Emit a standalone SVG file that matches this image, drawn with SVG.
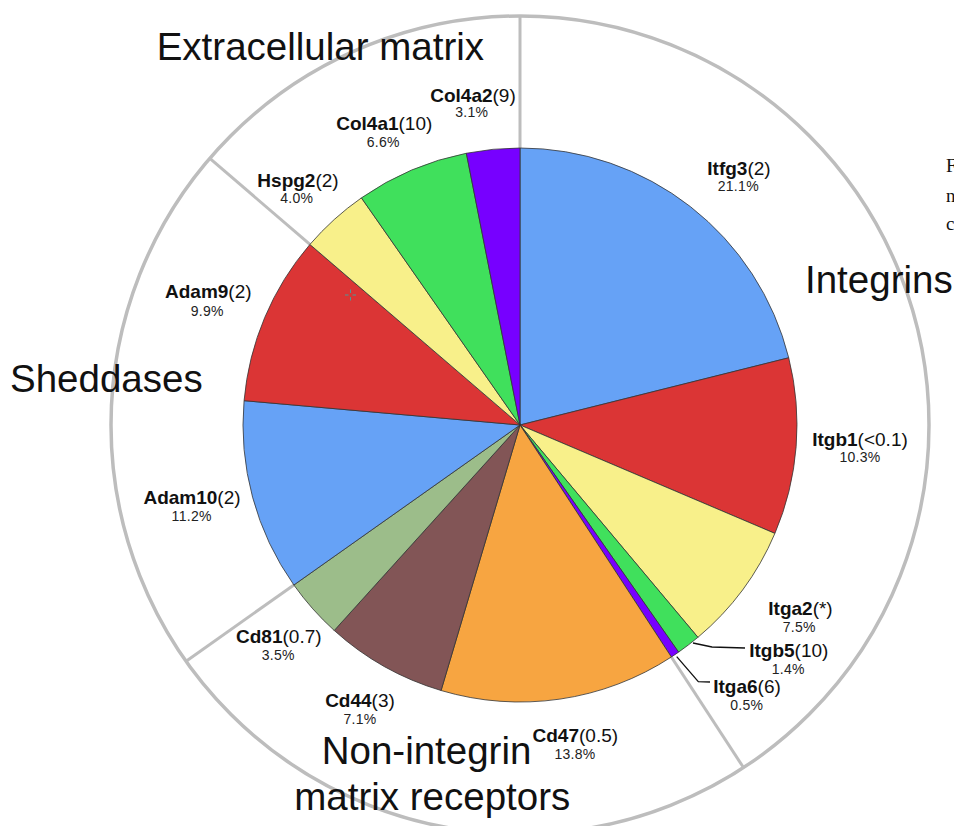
<svg xmlns="http://www.w3.org/2000/svg" width="954" height="826" viewBox="0 0 954 826">
<style>
.slice{stroke:#333;stroke-width:0.8;stroke-linejoin:round}
.ring{fill:none;stroke:#bdbdbd;stroke-width:3.5}
.div{stroke:#bdbdbd;stroke-width:3}
.lead{fill:none;stroke:#111;stroke-width:1.3}
.big{font-family:"Liberation Sans",Arial,sans-serif;font-size:38.5px;fill:#111}
.nm{font-family:"Liberation Sans",Arial,sans-serif;font-size:19px;fill:#111;text-anchor:middle}
.nm tspan.b{font-weight:bold}
.pc{font-family:"Liberation Sans",Arial,sans-serif;font-size:14px;fill:#222;text-anchor:middle;letter-spacing:0.3px}
.side{font-family:"Liberation Serif","Times New Roman",serif;font-size:19px;fill:#111}
</style>
<rect width="954" height="826" fill="#ffffff"/>
<circle class="ring" cx="520" cy="425" r="409"/>
<g id="dividers">
<line class="div" x1="520" y1="148" x2="520" y2="16"/>
<line class="div" x1="671.35" y1="657" x2="743.48" y2="767.55"/>
<line class="div" x1="293.87" y1="584.99" x2="186.11" y2="661.23"/>
<line class="div" x1="309.93" y1="244.44" x2="209.83" y2="158.4"/>
</g>
<g id="pie">
<path id="itfg3" class="slice" fill="#66a2f6" d="M520,425 L520,148 A277,277 0 0 1 788.72,357.8 Z"/>
<path id="itgb1" class="slice" fill="#db3535" d="M520,425 L788.72,357.8 A277,277 0 0 1 774.9,533.41 Z"/>
<path id="itga2" class="slice" fill="#f8f08a" d="M520,425 L774.9,533.41 A277,277 0 0 1 697.9,637.32 Z"/>
<path id="itgb5" class="slice" fill="#40e05c" d="M520,425 L697.9,637.32 A277,277 0 0 1 678.56,652.13 Z"/>
<path id="itga6" class="slice" fill="#7700ff" d="M520,425 L678.56,652.13 A277,277 0 0 1 671.35,657 Z"/>
<path id="cd47" class="slice" fill="#f7a541" d="M520,425 L671.35,657 A277,277 0 0 1 441.05,690.51 Z"/>
<path id="cd44" class="slice" fill="#825556" d="M520,425 L441.05,690.51 A277,277 0 0 1 334.22,630.46 Z"/>
<path id="cd81" class="slice" fill="#9cbd8a" d="M520,425 L334.22,630.46 A277,277 0 0 1 293.87,584.99 Z"/>
<path id="adam10" class="slice" fill="#66a2f6" d="M520,425 L293.87,584.99 A277,277 0 0 1 244.07,400.67 Z"/>
<path id="adam9" class="slice" fill="#db3535" d="M520,425 L244.07,400.67 A277,277 0 0 1 309.93,244.44 Z"/>
<path id="hspg2" class="slice" fill="#f8f08a" d="M520,425 L309.93,244.44 A277,277 0 0 1 361.44,197.87 Z"/>
<path id="col4a1" class="slice" fill="#40e05c" d="M520,425 L361.44,197.87 A277,277 0 0 1 466.39,153.24 Z"/>
<path id="col4a2" class="slice" fill="#7700ff" d="M520,425 L466.39,153.24 A277,277 0 0 1 520,148 Z"/>
</g>
<g id="crosshair" stroke="#4a9a9a" stroke-width="1">
<line x1="345" y1="295" x2="348.5" y2="295"/><line x1="352.5" y1="295" x2="356" y2="295"/>
<line x1="350.5" y1="289.5" x2="350.5" y2="293"/><line x1="350.5" y1="297" x2="350.5" y2="300.5"/>
</g>
<g id="connectors">
<polyline class="lead" points="693,643 712,647 745,648"/>
<polyline class="lead" points="676.7,656.7 698.3,681.7 710,682"/>
</g>
<g id="categories">
<text class="big" x="156.7" y="60">Extracellular matrix</text>
<text class="big" x="805" y="293">Integrins</text>
<text class="big" x="10" y="392">Sheddases</text>
<text class="big" x="321.7" y="764">Non-integrin</text>
<text class="big" x="294.3" y="810">matrix receptors</text>
</g>
<g id="label-col4a2"><text class="nm" x="473" y="101.7"><tspan class="b">Col4a2</tspan>(9)</text><text class="pc" x="471.7" y="117">3.1%</text></g>
<g id="label-col4a1"><text class="nm" x="384.3" y="130"><tspan class="b">Col4a1</tspan>(10)</text><text class="pc" x="383.3" y="146.7">6.6%</text></g>
<g id="label-hspg2"><text class="nm" x="298" y="186.7"><tspan class="b">Hspg2</tspan>(2)</text><text class="pc" x="296.7" y="202.7">4.0%</text></g>
<g id="label-itfg3"><text class="nm" x="739" y="175"><tspan class="b">Itfg3</tspan>(2)</text><text class="pc" x="738.3" y="190.7">21.1%</text></g>
<g id="label-adam9"><text class="nm" x="208.3" y="298.3"><tspan class="b">Adam9</tspan>(2)</text><text class="pc" x="207.3" y="315.7">9.9%</text></g>
<g id="label-adam10"><text class="nm" x="192" y="504.3"><tspan class="b">Adam10</tspan>(2)</text><text class="pc" x="191.7" y="520.7">11.2%</text></g>
<g id="label-itgb1"><text class="nm" x="860" y="446"><tspan class="b">Itgb1</tspan>(&lt;0.1)</text><text class="pc" x="860" y="462.3">10.3%</text></g>
<g id="label-itga2"><text class="nm" x="800.5" y="615"><tspan class="b">Itga2</tspan>(*)</text><text class="pc" x="799.3" y="631.7">7.5%</text></g>
<g id="label-itgb5"><text class="nm" x="788.8" y="656.7"><tspan class="b">Itgb5</tspan>(10)</text><text class="pc" x="788.3" y="674.3">1.4%</text></g>
<g id="label-itga6"><text class="nm" x="747" y="692.7"><tspan class="b">Itga6</tspan>(6)</text><text class="pc" x="746.7" y="710">0.5%</text></g>
<g id="label-cd47"><text class="nm" x="575.3" y="742.3"><tspan class="b">Cd47</tspan>(0.5)</text><text class="pc" x="575" y="759.3">13.8%</text></g>
<g id="label-cd44"><text class="nm" x="360" y="706.7"><tspan class="b">Cd44</tspan>(3)</text><text class="pc" x="360" y="724">7.1%</text></g>
<g id="label-cd81"><text class="nm" x="278.8" y="643.3"><tspan class="b">Cd81</tspan>(0.7)</text><text class="pc" x="278.3" y="660">3.5%</text></g>
<g id="page-edge">
<text class="side" x="946" y="172">F</text>
<text class="side" x="946" y="201.5">n</text>
<text class="side" x="946" y="230">c</text>
</g>
</svg>
